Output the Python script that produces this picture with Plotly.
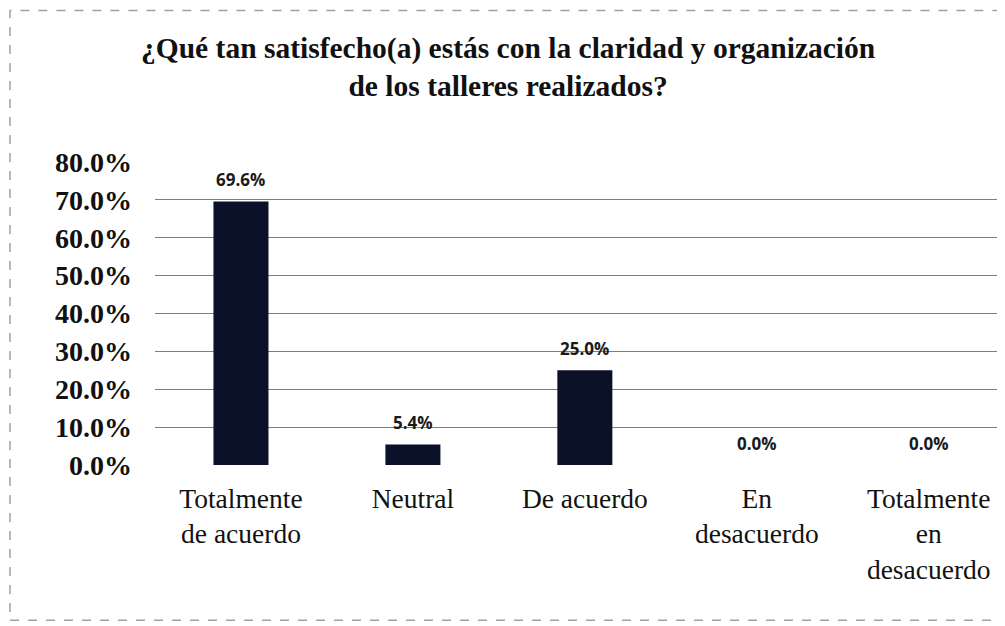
import plotly.graph_objects as go

categories = ["Totalmente<br>de acuerdo", "Neutral", "De acuerdo", "En<br>desacuerdo", "Totalmente<br>en<br>desacuerdo"]
values = [69.6, 5.4, 25.0, 0.0, 0.0]
y_ticks = [0, 10, 20, 30, 40, 50, 60, 70, 80]
y_tick_labels = [f"{v:.1f}%" for v in y_ticks]
title = "¿Qué tan satisfecho(a) estás con la claridad y organización<br>de los talleres realizados?"

SERIF = "Liberation Serif"

fig = go.Figure()
fig.add_trace(go.Bar(
    x=categories, y=values,
    marker=dict(color="#0b1128", line=dict(width=0)),
    width=0.32,
))

for c, v in zip(categories, values):
    fig.add_annotation(x=c, y=v, text=f"{v:.1f}%", showarrow=False,
                       yanchor="middle", yshift=22,
                       font=dict(family="Open Sans", size=17, color="#1a1a1a", weight="bold"))

fig.add_annotation(xref="paper", yref="paper", x=0.411, y=1.315, xanchor="center", yanchor="middle",
                   text=title, showarrow=False,
                   font=dict(family=SERIF, size=29.5, color="#111", weight="bold"))

fig.update_layout(
    width=1005, height=626,
    paper_bgcolor="white", plot_bgcolor="white",
    margin=dict(l=147, r=0, t=154, b=169, autoexpand=False),
    showlegend=False,
)
fig.update_xaxes(
    range=[-0.5, 4.49], showgrid=False, showline=False, zeroline=False, ticks="",
    tickfont=dict(family=SERIF, size=27.5, color="#111"),
    ticklabelstandoff=14, automargin=False,
)
fig.update_yaxes(
    range=[0, 80], tickvals=y_ticks, ticktext=y_tick_labels,
    showgrid=True, gridcolor="#7f7f7f", gridwidth=1.3, zeroline=False, showline=False,
    tickfont=dict(family=SERIF, size=28, color="#111", weight="bold"),
    ticklabelstandoff=22, automargin=False,
)
fig.add_shape(type="rect", xref="paper", yref="paper", x0=-0.169, x1=1.05, y0=-0.512, y1=1.50,
              line=dict(color="#a0a0a0", width=1.5, dash="dash"), layer="below")
fig.write_html("out.html")
